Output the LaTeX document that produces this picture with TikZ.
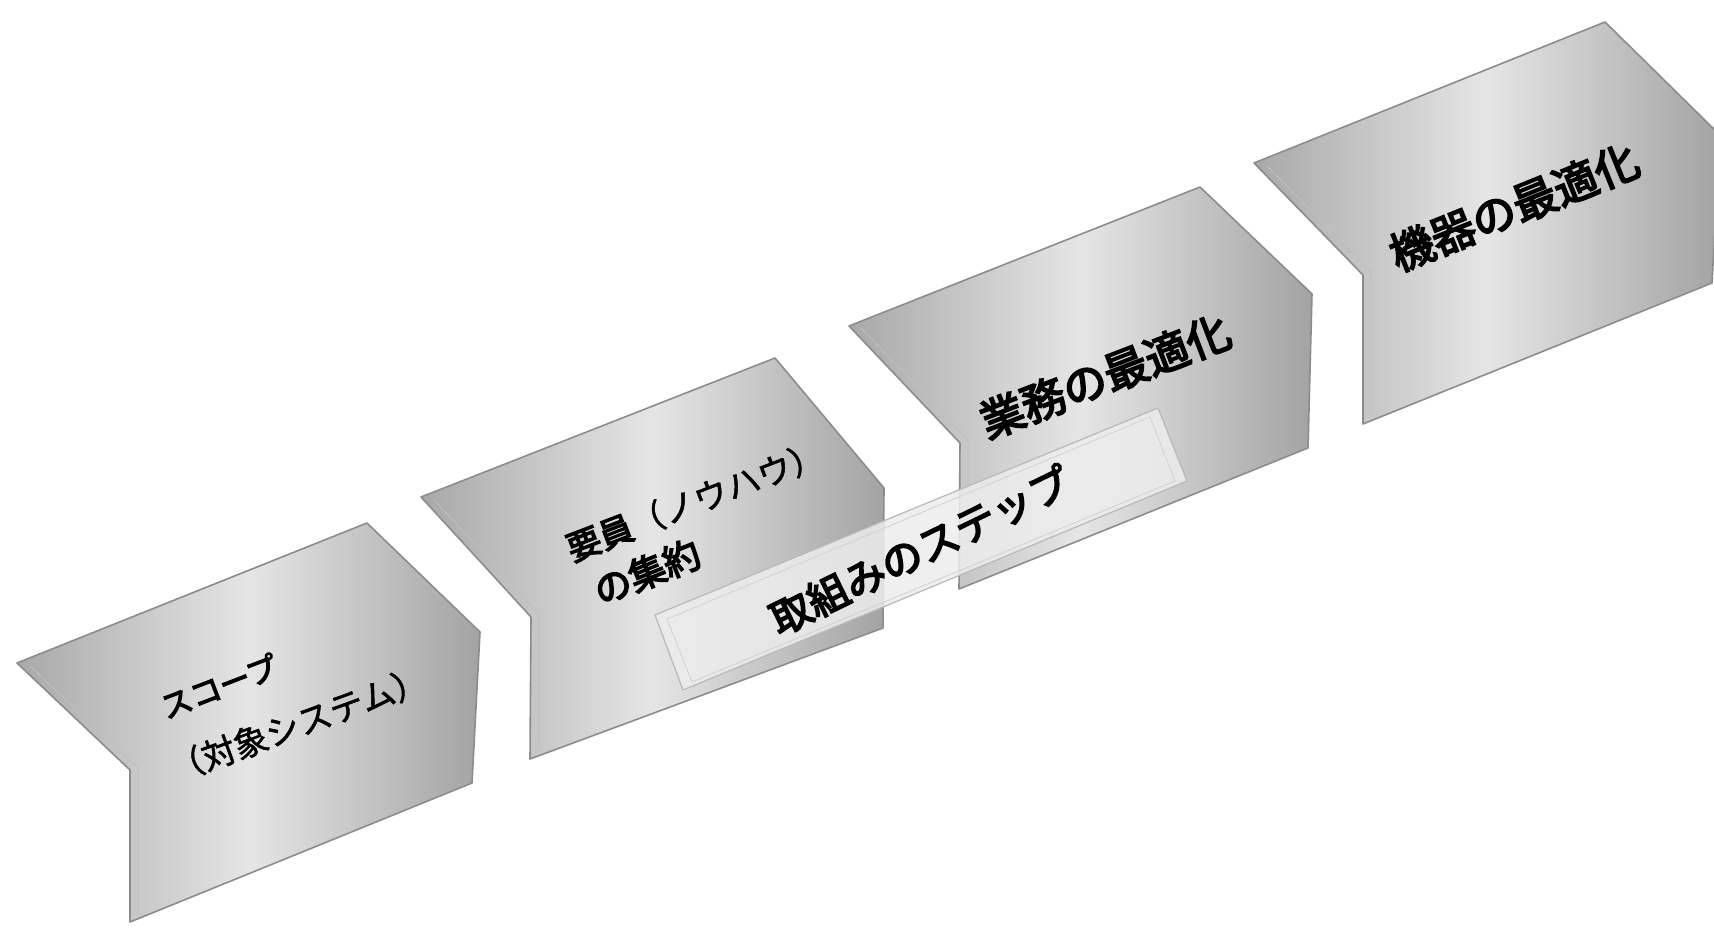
\documentclass[tikz,border=0pt]{standalone}
\usepackage{fontspec}
\newfontfamily\cjk[FakeBold=4]{Noto Sans CJK JP}
\newfontfamily\cjkl[FakeBold=1.5]{Noto Sans CJK JP}
\begin{document}
\begin{tikzpicture}[x=1pt,y=-1pt,
  chev/.style={draw=black!45, line width=1.6pt, line join=round,
    left color=black!34, right color=black!36, middle color=black!10},
  inner/.style={draw=white!75!black, line width=0.8pt},
  lbl/.style={text=black, inner sep=0pt, font=\cjk},
  stepbox/.style={fill=black!7, fill opacity=0.85, draw=black!28, line width=1.2pt}]
\useasboundingbox (0,0) rectangle (1714,928);
\fill[white] (0,0) rectangle (1714,928);
% chevron 1
\path[chev] (17,663) -- (130,770) -- (130,922) -- (472,783) -- (480,632) -- (367,523) -- cycle;
\draw[inner] (30,666) -- (138,768) -- (138,912);
% chevron 2
\path[chev] (421,497) -- (531,617) -- (530,759) -- (883,628) -- (884,488) -- (775,358) -- cycle;
\draw[inner] (434,500) -- (539,614) -- (539,749);
% chevron 3
\path[chev] (849,326) -- (960,443) -- (959,589) -- (1308,448) -- (1312,294) -- (1200,187) -- cycle;
\draw[inner] (862,329) -- (968,440) -- (968,579);
% chevron 4
\path[chev] (1254,163) -- (1363,275) -- (1363,424) -- (1712,283) -- (1720,135) -- (1605,22) -- cycle;
\draw[inner] (1267,166) -- (1371,272) -- (1371,414);
% labels
\node[lbl, rotate=21, font=\cjk\fontsize{31}{34}\selectfont] (s1a) at (219,686) {スコープ};
\node[lbl, rotate=20, font=\cjkl\fontsize{34}{36}\selectfont] (s1b) at (298,724) {（対象システム）};
\node[lbl, rotate=21, font=\cjkl\fontsize{34}{38}\selectfont] (s2a) at (695,501) {\cjk 要員\cjkl（ノウハウ）};
\node[lbl, rotate=22, font=\cjk\fontsize{37}{40}\selectfont] (s2b) at (647,572) {の集約};
\node[lbl, rotate=21, font=\cjk\fontsize{44}{48}\selectfont] (s3) at (1105,376) {業務の最適化};
\node[lbl, rotate=22, font=\cjk\fontsize{44}{48}\selectfont] (s4) at (1514,207) {機器の最適化};
% step box
\path[stepbox] (655,615) -- (683,690) -- (1187,481) -- (1158,408) -- cycle;
\draw[white!82!black, line width=0.8pt] (667,619) -- (692,682) -- (1175,481) -- (1150,417) -- cycle;
\node[lbl, rotate=26, font=\cjk\fontsize{41}{44}\selectfont] (title) at (920,550) {取組みのステップ};
\end{tikzpicture}
\end{document}
